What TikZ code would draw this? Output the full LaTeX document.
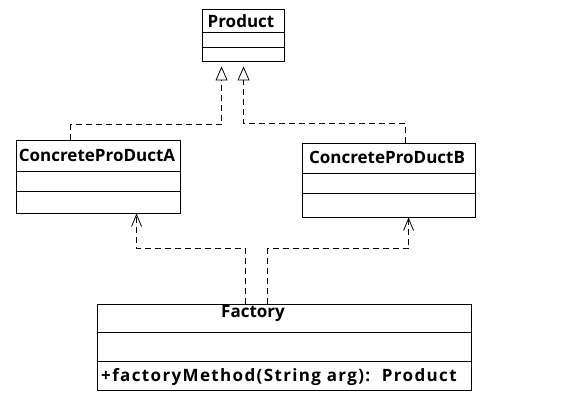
\documentclass[tikz,border=0pt]{standalone}
\usepackage{fontspec}
\setmainfont{Open Sans}
\newfontfamily\memberfont[LetterSpace=8]{Open Sans}
\usetikzlibrary{arrows.meta, positioning}
\tikzset{
    x=1pt, y=-1pt, % pixel like units, y grows downwards
    classbox/.style={draw, line width=0.9pt, inner sep=0pt}, % outer frame of a class
    classname/.style={font=\bfseries\fontsize{17}{20}\selectfont, inner sep=0pt}, % class title
    member/.style={font=\memberfont\bfseries\fontsize{17}{20}\selectfont, inner sep=0pt, anchor=west},
    realize/.style={line width=0.8pt, dash pattern=on 6pt off 4pt, -{Triangle[open, length=14pt, width=12pt]}},
    depend/.style={line width=0.8pt, dash pattern=on 6pt off 4pt, -{Straight Barb[length=12pt, width=10pt]}},
}
\newcommand{\classline}[2]{% box, distance from top
    \draw[line width=0.9pt] ([yshift=-#2pt]#1.north west) -- ([yshift=-#2pt]#1.north east);}
\begin{document}
\begin{tikzpicture}
    \useasboundingbox (0,0) rectangle (587,417);
    % classes
    \node[classbox, minimum width=82pt, minimum height=52pt] (product) at (243,35) {};
    \node[classbox, minimum width=164pt, minimum height=73pt] (a) at (98,176.5) {};
    \node[classbox, minimum width=173pt, minimum height=74pt] (b) at (388.5,180) {};
    \node[classbox, minimum width=374pt, minimum height=86pt] (factory) at (284,347) {};
    \classline{product}{24} \classline{product}{39}
    \classline{a}{32} \classline{a}{52}
    \classline{b}{31} \classline{b}{51}
    \classline{factory}{29} \classline{factory}{58}
    % names
    \node[classname] (productname) at (241,21) {Product};
    \node[classname] (aname) at (97,155) {ConcreteProDuctA};
    \node[classname] (bname) at (387,157.5) {ConcreteProDuctB};
    \node[classname] (factoryname) at (253,313) {Factory};
    \node[member] (method) at (101,377.5) {+factoryMethod(String arg):\ \ Product};
    % realization
    \draw[realize] ([xshift=55pt]a.north west) -- ++(0,-15) -| ([xshift=20pt,yshift=-5pt]product.south west);
    \draw[realize] ([xshift=104pt]b.north west) -- ++(0,-19) -| ([xshift=42pt,yshift=-5pt]product.south west);
    % dependency
    \draw[depend] ([xshift=149pt]factory.north west) -- ++(0,-55) -| ([xshift=121pt]a.south west);
    \draw[depend] ([xshift=171pt]factory.north west) -- ++(0,-55) -| ([xshift=107pt]b.south west);
\end{tikzpicture}
\end{document}
